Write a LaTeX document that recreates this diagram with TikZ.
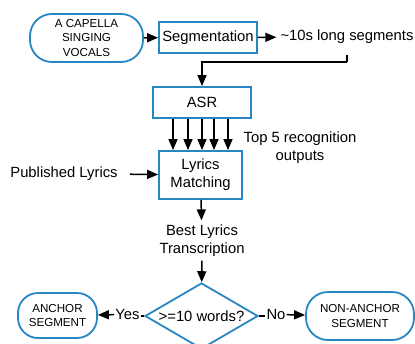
\documentclass[tikz,border=0pt]{standalone}
\usepackage{fontspec}
\setmainfont{Liberation Sans}
\usetikzlibrary{arrows.meta,shapes.geometric}
\definecolor{flowblue}{RGB}{41,134,196}
\begin{document}
\begin{tikzpicture}[x=1pt,y=-1pt,
  bigtext/.style={font=\fontsize{14.8}{18}\selectfont},
  smalltext/.style={font=\fontsize{11.6}{14.5}\selectfont},
  procbox/.style={draw=flowblue, line width=1.8pt, inner sep=0pt, align=center, bigtext},
  terminal/.style={draw=flowblue, line width=1.8pt, inner sep=0pt, align=center,
    rounded corners=#1, smalltext},
  plain/.style={inner sep=4pt, align=center, bigtext},
  decision/.style={draw=flowblue, line width=1.8pt, diamond, inner sep=0pt},
  flow/.style={line width=1.5pt, -{Triangle[length=11pt,width=9pt]}},
  link/.style={line width=1.5pt}]
\useasboundingbox (0,0) rectangle (415,343);
\clip (0,0) rectangle (415,343);

% input and segmentation
\node[terminal=22pt, minimum width=113pt, minimum height=48pt] (vocals) at (86.5,38)
  {A CAPELLA\\SINGING\\VOCALS};
\node[procbox, minimum width=98pt, minimum height=31pt] (seg) at (208,37.5) {Segmentation};
\node[plain] (segs) at (347,37) {\textasciitilde10s long segments};
\draw[flow] (vocals) -- (seg);
\draw[flow] (seg) -- (segs);

% recognition
\node[procbox, minimum width=98pt, minimum height=31pt] (asr) at (202,102.5) {ASR};
\coordinate (segsout) at (347,55);
\coordinate (turn) at (347,62);
\draw[link] (segsout) -- (turn);
\draw[flow] (turn) -| (asr.north);

% lyrics matching
\node[procbox, minimum width=83pt, minimum height=48pt] (match) at (200.5,175) {Lyrics\\Matching};
\foreach \dx in {-29,-14,0,12,26}
  \draw[flow] ([xshift=\dx pt]asr.south) -- ([xshift=\dx pt]asr.south |- match.north);
\node[plain] (top5) at (300,147.5) {Top 5 recognition\\outputs};
\node[plain, inner xsep=12pt] (pub) at (64,173.5) {Published Lyrics};
\draw[flow] (pub) -- (match);

\node[plain] (best) at (202,240.5) {Best Lyrics\\Transcription};
\draw[flow] (match) -- (best);

% decision
\node[decision, minimum width=113pt, minimum height=66pt] (check) at (201.5,316) {};
\node[inner sep=0pt, bigtext] (checktext) at (201.5,316) {>=10 words?};
\draw[flow] (best) -- (check);

\node[terminal=20pt, minimum width=79pt, minimum height=45pt] (anchor) at (57.5,315.5)
  {ANCHOR\\SEGMENT};
\node[terminal=22pt, minimum width=108pt, minimum height=48pt] (nonanchor) at (360,316)
  {NON-ANCHOR\\SEGMENT};

\node[inner sep=1pt, bigtext] (yes) at (127.5,314.5) {Yes};
\node[inner sep=1pt, bigtext] (no) at (276,314.5) {No};
\draw[link] (check.west) -- (check.west -| yes.east);
\draw[flow] (yes) -- (anchor);
\draw[link] (check.east) -- (check.east -| no.west);
\draw[flow] (no) -- (nonanchor);
\end{tikzpicture}
\end{document}
